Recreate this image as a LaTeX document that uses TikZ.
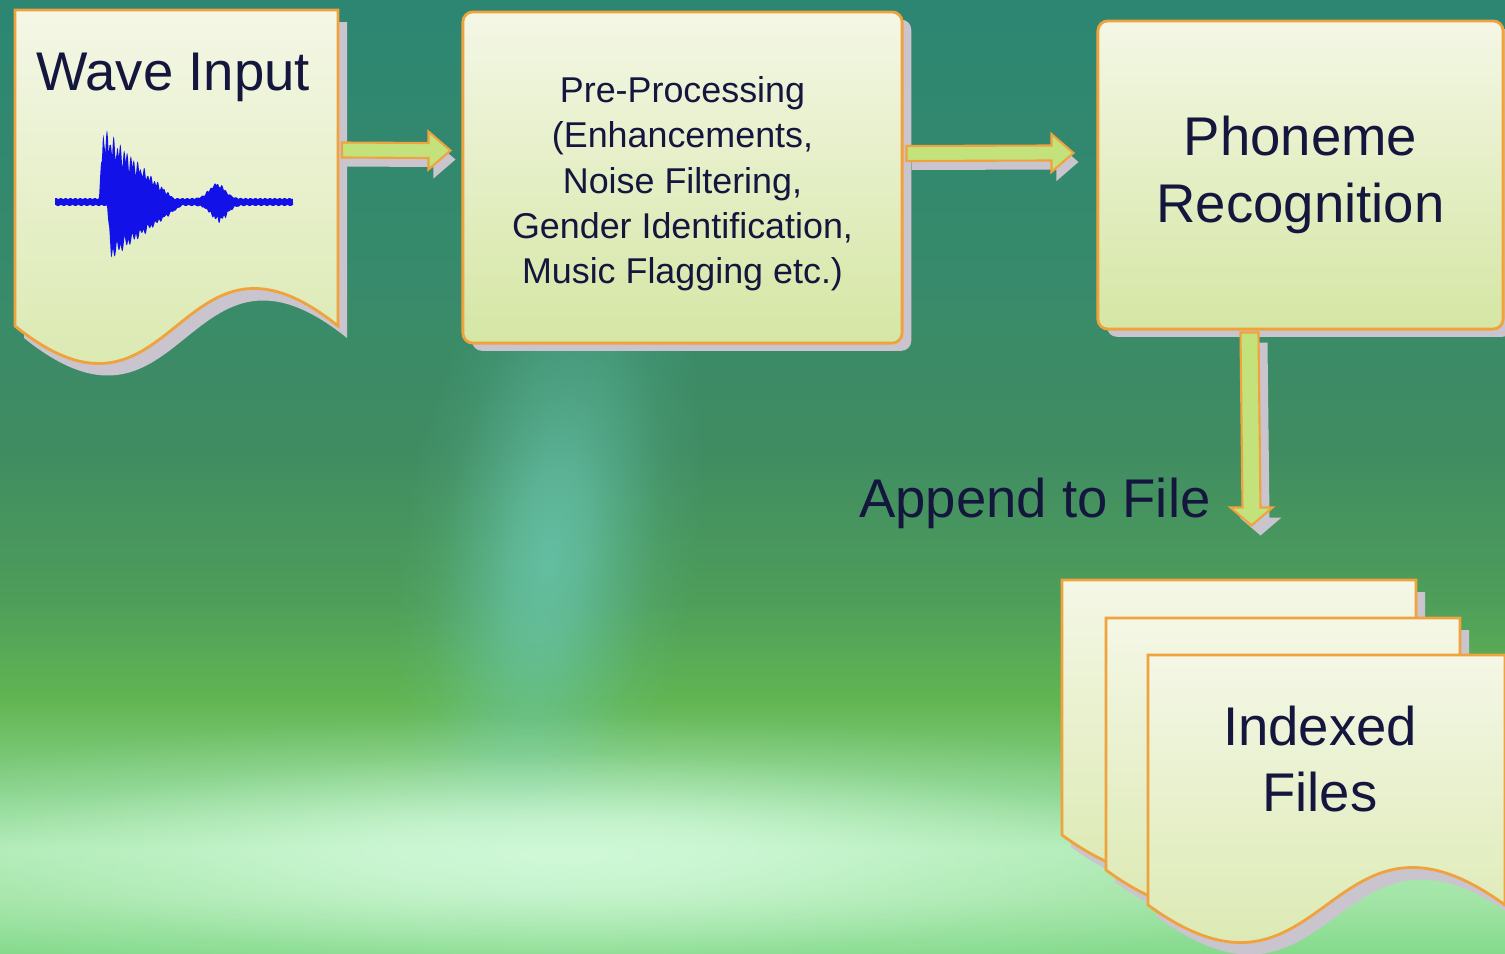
\documentclass[tikz,border=0pt]{standalone}
\usepackage{fontspec}
\setmainfont{Liberation Sans}
\usetikzlibrary{calc,shadows,fadings}

\definecolor{textnavy}{HTML}{15163D}
\definecolor{sheettop}{HTML}{F4F7E6}
\definecolor{sheetbot}{HTML}{D5E6A4}
\definecolor{rimorange}{HTML}{F0A23C}
\definecolor{shadowgrey}{HTML}{CAC4CE}
\definecolor{arrowgreen}{HTML}{C4E27C}
\definecolor{waveblue}{HTML}{1212E8}
\definecolor{beamcyan}{HTML}{6CCAB8}
\definecolor{glowmint}{HTML}{D2FADA}
\definecolor{bgA}{HTML}{84DA8C}
\definecolor{bgB}{HTML}{A2E4A6}
\definecolor{bgC}{HTML}{AEEAB4}
\definecolor{bgD}{HTML}{86D28A}
\definecolor{bgE}{HTML}{62B552}
\definecolor{bgF}{HTML}{4E9E5A}
\definecolor{bgG}{HTML}{408C62}
\definecolor{bgH}{HTML}{368A6C}
\definecolor{bgI}{HTML}{2C8672}

\pgfdeclareverticalshading{backdrop}{100bp}{color(0bp)=(bgA); color(25bp)=(bgA);
  color(27.8bp)=(bgB); color(30.5bp)=(bgC); color(33.6bp)=(bgD); color(38.3bp)=(bgE);
  color(43.5bp)=(bgF); color(51.4bp)=(bgG); color(61.9bp)=(bgH); color(75bp)=(bgI);
  color(100bp)=(bgI)}
\pgfdeclareradialshading{spotshade}{\pgfpointorigin}{color(0bp)=(white);
  color(6bp)=(white!80!black); color(12bp)=(white!45!black); color(18bp)=(white!15!black);
  color(25bp)=(black); color(50bp)=(black)}
\pgfdeclarefading{softspot}{\pgfuseshading{spotshade}}

\tikzset{
    stage/.style={rectangle,rounded corners=0.1cm,draw=rimorange,line width=0.8pt,
        top color=sheettop,bottom color=sheetbot,text=textnavy,align=center,
        copy shadow={shadow xshift=2.6pt,shadow yshift=-2.2pt,fill=shadowgrey,draw=none}},
    sheet/.style={draw=rimorange,line width=0.8pt,top color=sheettop,bottom color=sheetbot},
    title/.style={text=textnavy,align=center,font=\fontsize{15.5}{19}\selectfont},
    small/.style={font=\fontsize{10.2}{12.9}\selectfont},
    arrowbody/.style={draw=rimorange,line width=0.6pt,fill=arrowgreen},
    arrowshadow/.style={fill=shadowgrey},
    pics/page/.style 2 args={code={
        \fill[shadowgrey] (9,12) -- (#1+9,12) -- (#1+9,#2+12)
            .. controls (#1/2+9,#2+12-130) and (#1/2+9,#2+12+130) .. (9,#2+12) -- cycle;
        \path[sheet] (0,0) -- (#1,0) -- (#1,#2)
            .. controls (#1/2,#2-130) and (#1/2,#2+130) .. (0,#2) -- cycle;
    }},
    declare function={
        burst(\t)=(\t>99)*(\t<174)*72*max(0,1-(\t-104)/70)*min(1,(\t-99)/4);
        blip(\t)=16*exp(max(-9,-((\t-217)/11)^2));
        jit(\t)=0.5+0.3*abs(sin(53*\t))+0.2*abs(sin(29*\t+40));
        jot(\t)=0.65+0.2*abs(cos(47*\t))+0.15*abs(sin(23*\t));
        up(\t)=2.6+1.4*abs(sin(37*\t))+burst(\t)*jit(\t)+blip(\t)*jot(\t);
        down(\t)=2.6+1.4*abs(cos(31*\t))+0.75*burst(\t-8)*jot(\t)+1.1*blip(\t-2)*jit(\t);
    },
}

% block arrows from a start point to a tip point
\newcommand{\harrow}[2]{%
    \fill[arrowshadow] ([shift={(5,1.5)}]#1) -- ([shift={(-17,1.5)}]#2) -- ([shift={(-17,-10)}]#2)
        -- ([shift={(5,9)}]#2) -- ([shift={(-17,28)}]#2) -- ([shift={(-17,16.5)}]#2)
        -- ([shift={(5,16.5)}]#1) -- cycle;
    \draw[arrowbody] ([shift={(0,-7.5)}]#1) -- ([shift={(-22,-7.5)}]#2) -- ([shift={(-22,-19)}]#2)
        -- (#2) -- ([shift={(-22,19)}]#2) -- ([shift={(-22,7.5)}]#2)
        -- ([shift={(0,7.5)}]#1) -- cycle;
}
\newcommand{\varrow}[2]{%
    \fill[arrowshadow] ([shift={(0,10)}]#1) -- ([shift={(0,-8)}]#2) -- ([shift={(-12,-8)}]#2)
        -- ([shift={(9,10)}]#2) -- ([shift={(30,-8)}]#2) -- ([shift={(18,-8)}]#2)
        -- ([shift={(18,10)}]#1) -- cycle;
    \draw[arrowbody] ([shift={(-9,0)}]#1) -- ([shift={(-9,-18)}]#2) -- ([shift={(-21,-18)}]#2)
        -- (#2) -- ([shift={(21,-18)}]#2) -- ([shift={(9,-18)}]#2)
        -- ([shift={(9,0)}]#1) -- cycle;
}

\begin{document}
\begin{tikzpicture}[x=0.01cm,y=-0.01cm]
    \useasboundingbox (0,0) rectangle (1505,954);
    % backdrop
    \shade[shading=backdrop] (0,0) rectangle (1505,954);
    \begin{scope}[transform canvas={rotate around={-8:(548,560)}}]
        \fill[beamcyan,opacity=0.75,path fading=softspot] (548,560) ellipse [x radius=1.5cm,y radius=3.8cm];
    \end{scope}
    \fill[glowmint,opacity=0.95,path fading=softspot] (560,855) ellipse [x radius=8cm,y radius=1.4cm];

    % wave input
    \pic at (15,10) {page={323}{316}};
    \node[title] (wave) at (173,77) {Wave Input};
    \fill[waveblue] plot[domain=55:293,samples=480] (\x,{202-up(\x)})
        -- plot[domain=293:55,samples=480] (\x,{202+down(\x)}) -- cycle;

    % processing stages
    \node[stage,small,minimum width=4.39cm,minimum height=3.31cm] (pre) at (682.5,177.5)
        {\rule{0pt}{11pt}Pre-Processing\\(Enhancements,\\Noise Filtering,\\Gender Identification,\\Music Flagging etc.)};
    \node[stage,title,minimum width=4.05cm,minimum height=3.08cm] (phon) at (1300.5,175)
        {Phoneme\\Recognition};

    % indexed files
    \pic at (1062,580) {page={354}{255}};
    \pic at (1106,618) {page={354}{252}};
    \pic at (1148,655) {page={357}{250}};
    \node[title] (files) at (1320,759) {Indexed\\Files};

    % connectors
    \coordinate (wave-out) at (342,150);
    \coordinate (pre-in) at ($(pre.west)+(-11,-27)$);
    \coordinate (pre-out) at ($(pre.east)+(3,-24)$);
    \coordinate (phon-in) at ($(phon.west)+(-23,-22)$);
    \coordinate (phon-out) at ($(phon.south)+(-51,2)$);
    \coordinate (files-in) at ($(phon-out)+(2,193)$);
    \harrow{wave-out}{pre-in}
    \harrow{pre-out}{phon-in}
    \varrow{phon-out}{files-in}
    \node[title,anchor=east] (append) at (1223,503) {Append to File};
\end{tikzpicture}
\end{document}
